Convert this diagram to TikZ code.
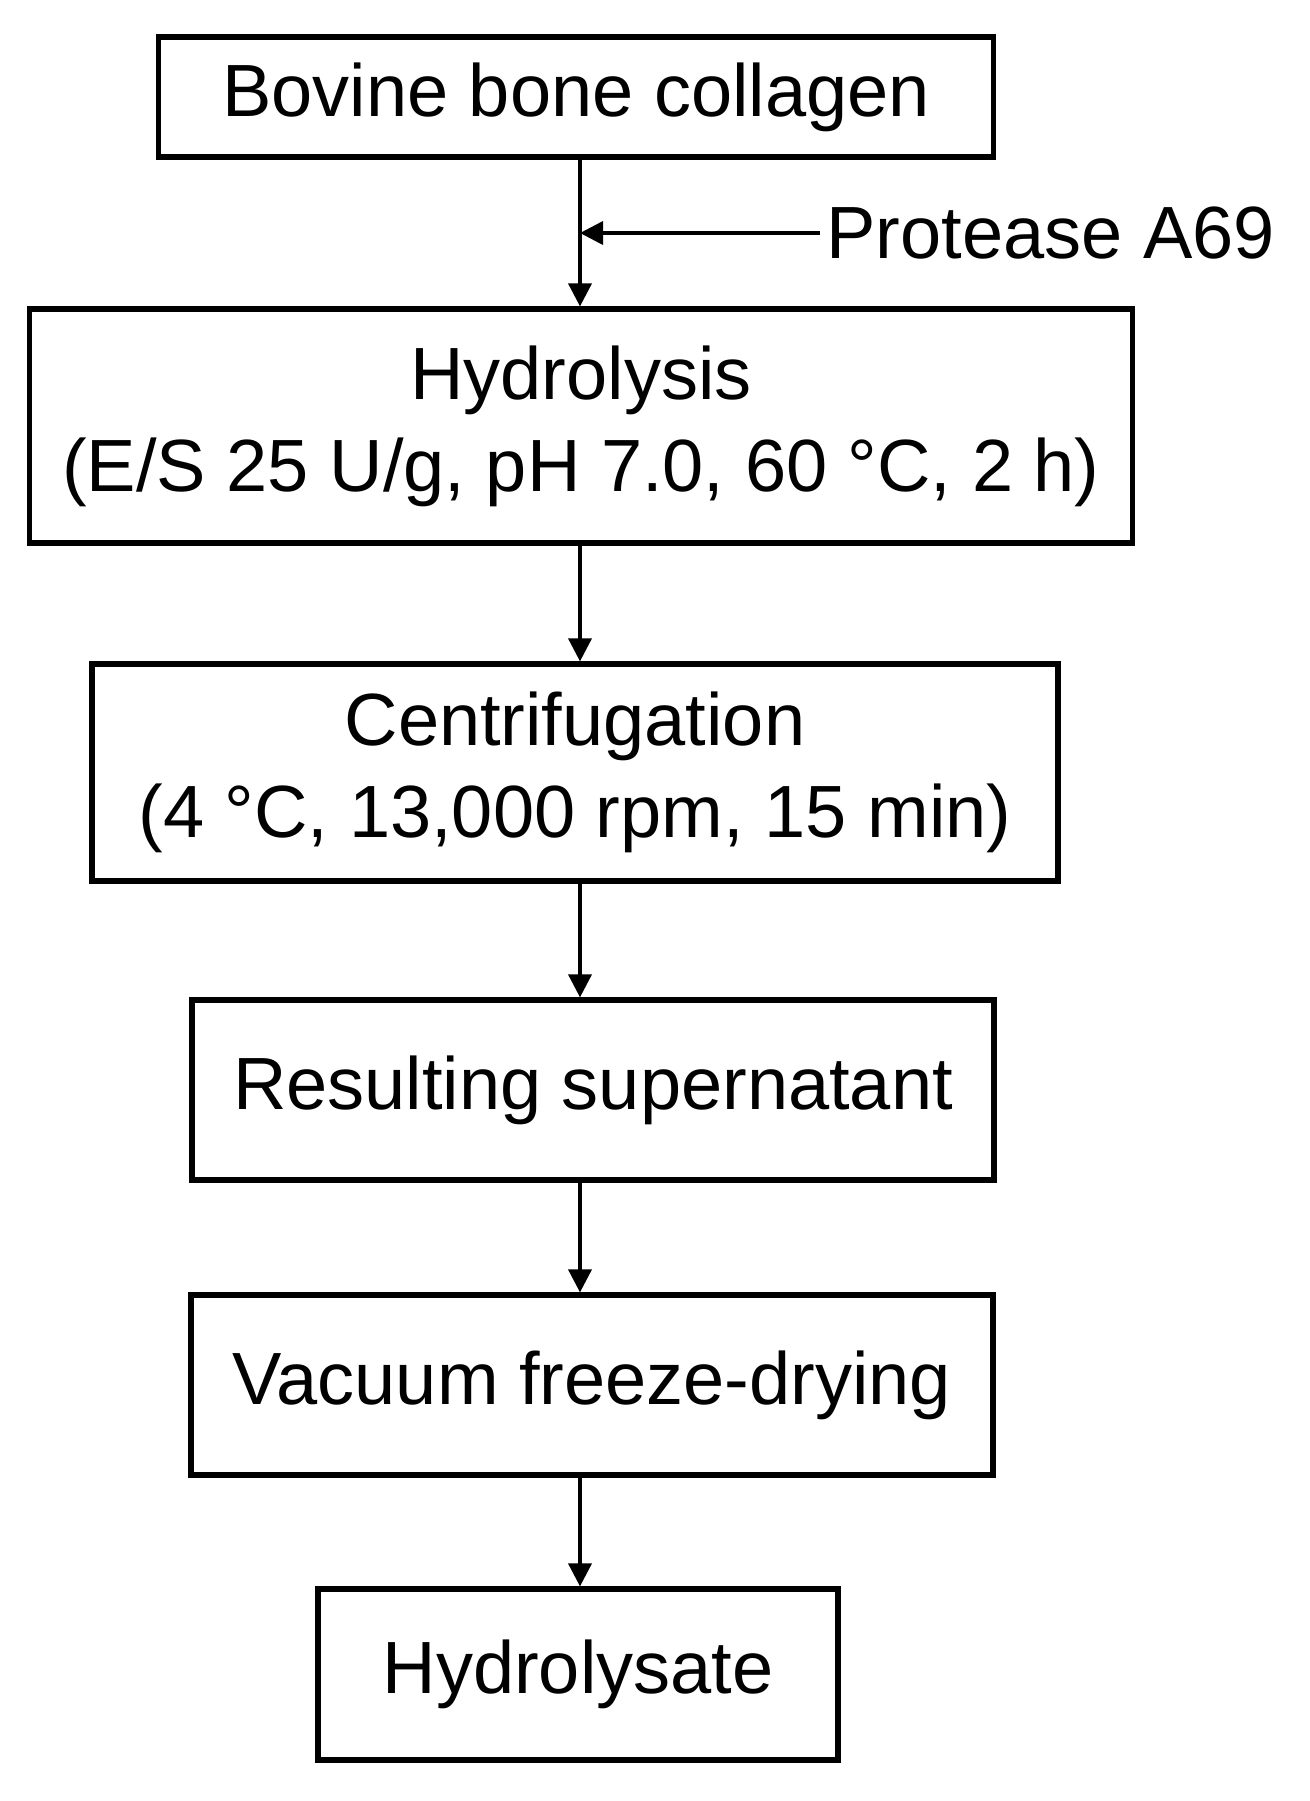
\documentclass[tikz,border=0pt]{standalone}
\usepackage{fontspec}
\setmainfont{Liberation Sans}
\usetikzlibrary{arrows.meta,positioning}

\begin{document}
\begin{tikzpicture}
  \tikzstyle{stage}=[rectangle, draw, line width=2.6pt, outer sep=0pt, inner sep=0pt, align=center, font=\fontsize{37pt}{46pt}\selectfont]
  \tikzstyle{feed}=[-{Triangle[length=11.5pt,width=11.5pt]}, line width=1.8pt]

  % page and the line the arrows run on
  \fill[white] (0,0) rectangle (655pt,-900.5pt);
  \coordinate (spine) at (290pt,0);

  % starting material
  \node[stage, minimum width=417.5pt, minimum height=60pt] (collagen) at (288pt,-48.5pt) {Bovine bone collagen};

  % = enzymatic step =
  \node[stage, below=76pt of collagen, xshift=2.5pt, minimum width=551.5pt, minimum height=117pt] (hydrolysis)
      {Hydrolysis\\(E/S 25 U/g, pH 7.0, 60 °C, 2 h)};
  \node[anchor=west, inner sep=3pt, font=\fontsize{37pt}{46pt}\selectfont] (protease) at (410pt,-116.5pt) {Protease A69};

  % = separation =
  \node[stage, below=60.5pt of hydrolysis, xshift=-3pt, minimum width=483pt, minimum height=108.5pt] (centrifuge)
      {Centrifugation\\(4 °C, 13,000 rpm, 15 min)};
  \node[stage, below=59.5pt of centrifuge, xshift=9pt, minimum width=401pt, minimum height=90pt] (supernatant) {Resulting supernatant};

  % = drying =
  \node[stage, below=57.5pt of supernatant, xshift=-0.5pt, minimum width=401pt, minimum height=90pt] (freezedry) {Vacuum freeze-drying};
  \node[stage, below=57pt of freezedry, xshift=-7pt, minimum width=260pt, minimum height=85.5pt] (hydrolysate) {Hydrolysate};

  % arrows
  \draw[feed, shorten >=1.3pt] (spine |- collagen.south) -- (spine |- hydrolysis.north);
  \draw[feed] (protease.west) -- (spine |- protease.west);
  \draw[feed, shorten >=1.3pt] (spine |- hydrolysis.south) -- (spine |- centrifuge.north);
  \draw[feed, shorten >=1.3pt] (spine |- centrifuge.south) -- (spine |- supernatant.north);
  \draw[feed, shorten >=1.3pt] (spine |- supernatant.south) -- (spine |- freezedry.north);
  \draw[feed, shorten >=1.3pt] (spine |- freezedry.south) -- (spine |- hydrolysate.north);
\end{tikzpicture}
\end{document}
